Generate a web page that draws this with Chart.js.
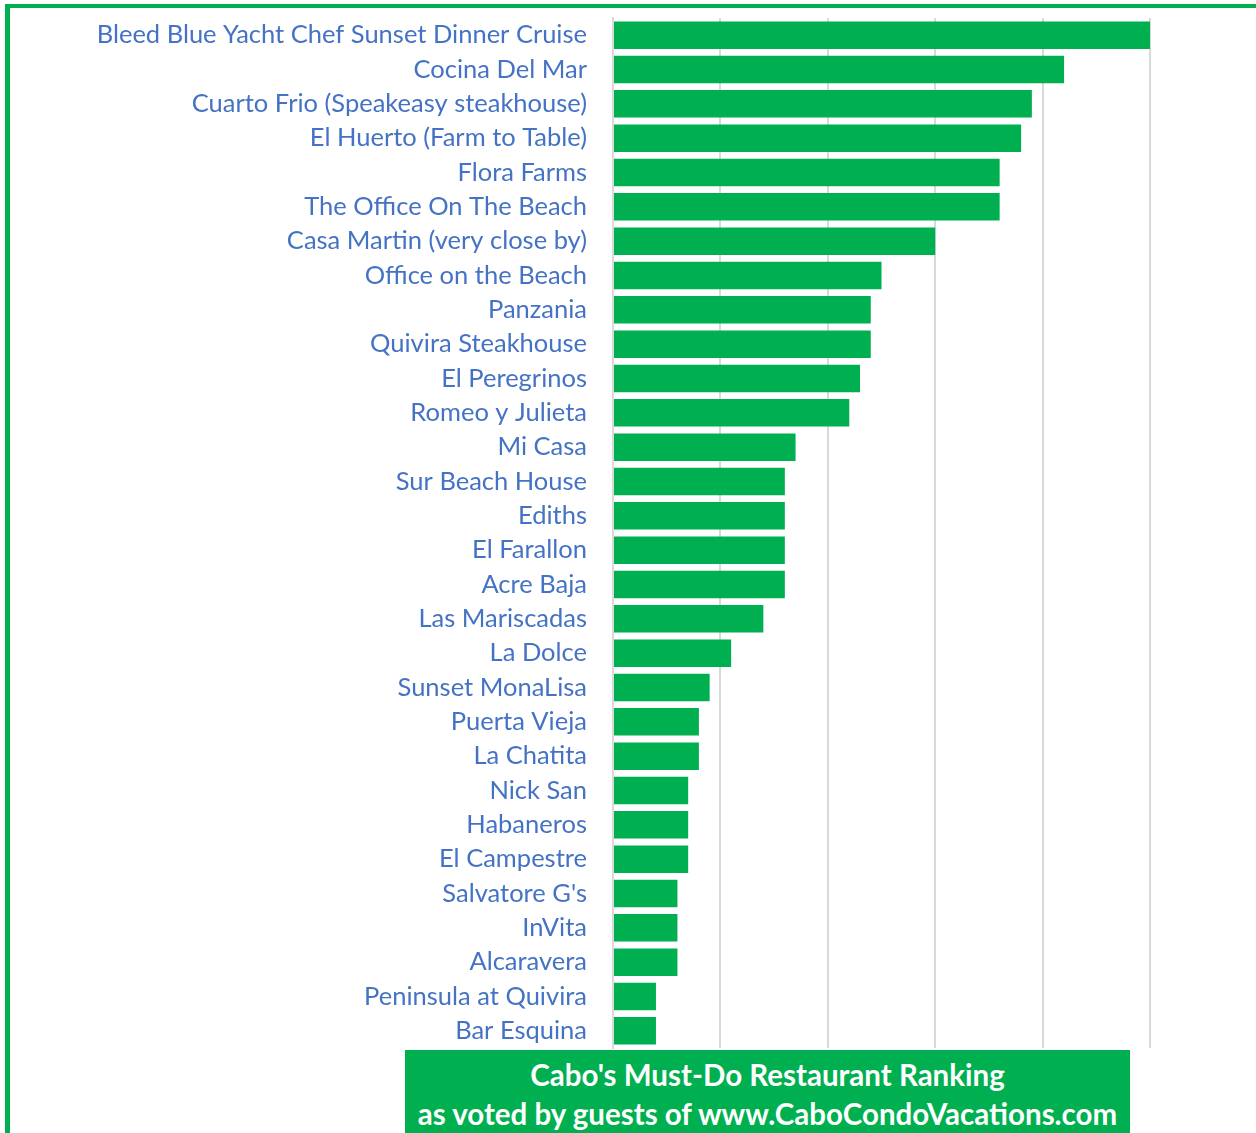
<!DOCTYPE html>
<html>
<head>
<meta charset="utf-8">
<script src="https://cdn.jsdelivr.net/npm/chart.js@4"></script>
<style>
  html, body { margin: 0; padding: 0; background: #fff; }
  #wrap { position: relative; width: 1256px; height: 1133px; overflow: hidden; }
  #chart { position: absolute; left: 0; top: 0; }
  .edgeLeft { position: absolute; left: 5px; top: 4px; width: 5px; height: 1129px; background: #00B050; }
  .edgeTop { position: absolute; left: 5px; top: 4px; width: 1251px; height: 4px; background: #00B050; }
  .titleBox {
    position: absolute; left: 405px; top: 1050px; width: 725px; height: 83px;
    background: #00B050; color: #fff; text-align: center; white-space: nowrap;
    font-family: Lato, sans-serif; font-weight: bold; font-size: 29.5px; line-height: 39px;
    padding-top: 5px; box-sizing: border-box;
  }
</style>
</head>
<body>
<div id="wrap">
  <canvas id="chart" width="1256" height="1133"></canvas>
  <div class="edgeLeft"></div>
  <div class="edgeTop"></div>
  <div class="titleBox">Cabo's Must-Do Restaurant Ranking<br>as voted by guests of www.CaboCondoVacations.com</div>
</div>
<script>
// ========== DATA ==========
const restaurants = [
    'Bleed Blue Yacht Chef Sunset Dinner Cruise', 'Cocina Del Mar', 'Cuarto Frio (Speakeasy steakhouse)',
    'El Huerto (Farm to Table)', 'Flora Farms', 'The Office On The Beach', 'Casa Martin (very close by)',
    'Office on the Beach', 'Panzania', 'Quivira Steakhouse', 'El Peregrinos', 'Romeo y Julieta',
    'Mi Casa', 'Sur Beach House', 'Ediths', 'El Farallon', 'Acre Baja', 'Las Mariscadas',
    'La Dolce', 'Sunset MonaLisa', 'Puerta Vieja', 'La Chatita', 'Nick San', 'Habaneros',
    'El Campestre', "Salvatore G's", 'InVita', 'Alcaravera', 'Peninsula at Quivira', 'Bar Esquina'
];
const votes = [50, 42, 39, 38, 36, 36, 30, 25, 24, 24, 23, 22, 17, 16, 16, 16, 16, 14, 11, 9, 8, 8, 7, 7, 7, 6, 6, 6, 4, 4];
const axisMax = 50;
const axisStep = 10;

// ========== GRAFIK ==========
Chart.defaults.animation = false;
const ctx = document.getElementById('chart').getContext('2d');
new Chart(ctx, {
    type: 'bar',
    data: {
        labels: restaurants,
        datasets: [{
            data: votes,
            backgroundColor: '#00B050',
            borderWidth: 0,
            barPercentage: 0.8,
            categoryPercentage: 1.0
        }]
    },
    options: {
        indexAxis: 'y',
        responsive: false,
        layout: { padding: { top: 18, right: 106, bottom: 85, left: 0 } },
        plugins: { legend: { display: false }, tooltip: { enabled: false } },
        scales: {
            x: {
                min: 0,
                max: axisMax,
                ticks: { display: false, stepSize: axisStep },
                grid: { color: '#d9d9d9', lineWidth: 2, drawTicks: false },
                border: { display: false },
                afterFit: s => { s.height = 0; s.paddingLeft = 0; s.paddingRight = 0; }
            },
            y: {
                grid: { display: false, drawTicks: false },
                border: { color: '#d9d9d9', width: 2 },
                ticks: {
                    color: '#4472C4',
                    font: { family: 'Lato', size: 25.5 },
                    padding: 26,
                    autoSkip: false
                },
                afterFit: s => { s.width = 613; s.paddingTop = 0; s.paddingBottom = 0; }
            }
        }
    }
});
</script>
</body>
</html>
